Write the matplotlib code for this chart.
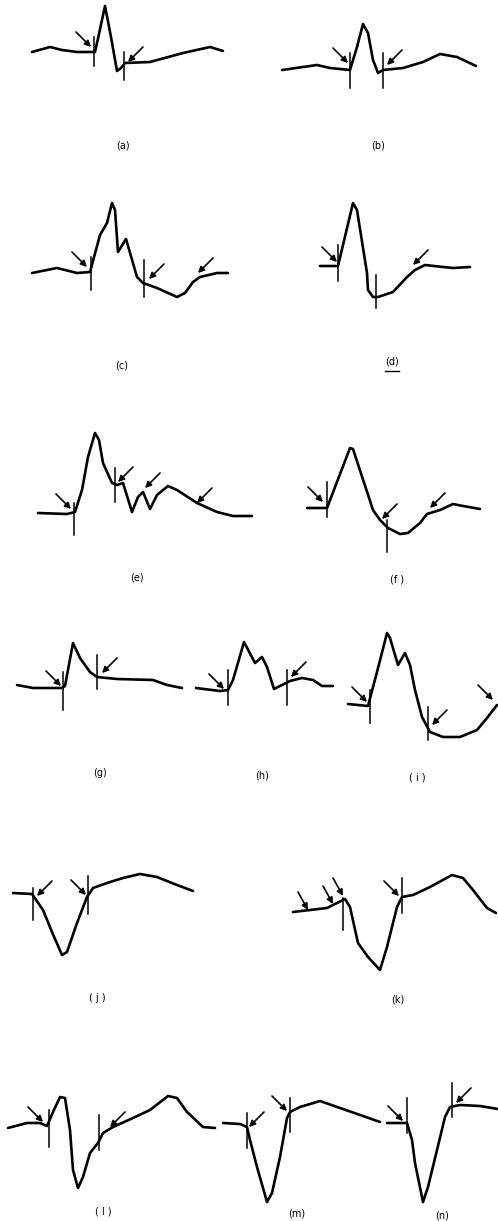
import numpy as np
import matplotlib
matplotlib.use("Agg")
import matplotlib.pyplot as plt

plt.rc('font', family='DejaVu Sans')

# Traced waveforms: t = time (px units from panel start), v = amplitude (px, up positive)
labels = ["(a)", "(b)", "(c)", "(d)", "(e)", "(f )", "(g)",
          "(h)", "( i )", "( j )", "(k)", "( l )", "(m)", "(n)"]

t_a = [0, 18, 30, 45, 63, 67, 73, 79, 85, 89, 93, 118, 151, 178, 191]
v_a = [0, 5, 2, 0, 0, 18, 46, 15, -19, -16, -11, -10, -1, 5, 1]
t_b = [0, 35, 48, 68, 75, 81, 86, 91, 93, 96, 101, 121, 141, 158, 175, 194]
v_b = [0, 5, 2, 0, 23, 46, 37, 10, 5, -3, 0, 2, 8, 16, 13, 4]
t_c = [0, 25, 45, 58, 68, 75, 80, 83, 86, 94, 105, 111, 125, 145, 153, 161, 168, 185, 196]
v_c = [0, 5, 0, 1, 38, 50, 70, 63, 21, 34, -4, -10, -15, -24, -20, -9, -4, 0, 0]
t_d = [0, 18, 33, 37, 47, 48, 53, 58, 73, 87, 95, 105, 123, 133, 150]
v_d = [0, 0, 63, 56, -7, -24, -31, -31, -26, -11, -4, 1, -1, -2, -1]
t_e = [0, 29, 37, 44, 50, 57, 61, 65, 74, 79, 85, 94, 100, 105, 112, 119, 130, 139, 159, 179, 195, 214]
v_e = [0, -1, 1, 23, 56, 80, 73, 50, 30, 28, 30, 1, 16, 21, 4, 18, 27, 23, 10, 1, -3, -3]
t_f = [0, 20, 43, 46, 66, 73, 81, 93, 101, 113, 120, 133, 146, 156, 173]
v_f = [0, 0, 60, 59, -2, -12, -20, -26, -25, -15, -6, -2, 4, 2, -1]
t_g = [0, 16, 45, 48, 56, 63, 73, 80, 100, 136, 150, 165]
v_g = [3, 0, 0, 2, 45, 30, 16, 11, 9, 8, 3, 0]
t_h = [0, 24, 32, 37, 48, 59, 66, 71, 78, 84, 94, 106, 117, 126, 137]
v_h = [2, -1, 0, 10, 48, 27, 33, 23, 1, 4, 9, 12, 10, 4, 4]
t_i = [0, 20, 29, 39, 42, 50, 57, 62, 67, 74, 82, 95, 112, 129, 139, 149]
v_i = [1, -1, 33, 72, 67, 40, 52, 40, 15, -12, -27, -32, -32, -25, -13, 0]
t_j = [0, 19, 30, 39, 49, 54, 64, 74, 80, 94, 110, 127, 144, 164, 180]
v_j = [1, 0, -16, -38, -61, -58, -29, -3, 6, 11, 16, 20, 17, 9, 3]
t_k = [0, 17, 34, 52, 57, 65, 75, 87, 94, 104, 109, 120, 137, 159, 170, 180, 194, 203]
v_k = [-2, 0, 2, 11, 3, -33, -47, -60, -37, 3, 13, 15, 23, 35, 32, 20, 2, -3]
t_l = [0, 19, 32, 39, 45, 52, 57, 62, 65, 70, 75, 82, 90, 95, 105, 125, 142, 160, 169, 179, 195, 207]
v_l = [-3, 2, 2, -1, 13, 28, 27, -5, -45, -63, -52, -28, -18, -8, -2, 7, 15, 29, 27, 13, -2, -3]
t_m = [0, 17, 24, 27, 34, 44, 49, 57, 64, 67, 77, 97, 117, 140, 157]
v_m = [1, 0, -3, -16, -43, -78, -69, -33, 6, 12, 17, 23, 16, 8, 2]
t_n = [0, 20, 25, 28, 36, 41, 50, 58, 63, 73, 93, 111]
v_n = [0, 0, -17, -40, -79, -64, -27, 6, 16, 18, 17, 14]

traces_t = [t_a, t_b, t_c, t_d, t_e, t_f, t_g, t_h, t_i, t_j, t_k, t_l, t_m, t_n]
traces_v = [v_a, v_b, v_c, v_d, v_e, v_f, v_g, v_h, v_i, v_j, v_k, v_l, v_m, v_n]

# vertical boundary markers: (t, top, bottom)
markers = [
    [(62, 15, -14), (92, 0, -28)],
    [(68, 17, -18), (101, 17, -18)],
    [(59, 16, -17), (112, 13, -24)],
    [(18, 21, -15), (56, -9, -42)],
    [(36, 10, -22), (77, 45, 11)],
    [(20, 26, -9), (80, -12, -44)],
    [(46, 16, -22), (80, 33, -1)],
    [(32, 20, -15), (91, 20, -15)],
    [(22, 15, -18), (80, -2, -35)],
    [(20, 6, -26), (75, 18, -20)],
    [(50, 12, -20), (109, 32, -3)],
    [(41, 15, -22), (91, 10, -25)],
    [(24, 11, -24), (67, 26, -8)],
    [(20, 25, -10), (65, 40, 6)],
]

# arrow tips: (t, v, side) side L = from upper left, R = from upper right, l = steep from left
arrows = [
    [(59, 5, 'L'), (96, -10, 'R')],
    [(66, 7, 'L'), (105, 5, 'R')],
    [(55, 6, 'L'), (117, -6, 'R'), (166, 0, 'R')],
    [(17, 4, 'L'), (93, 1, 'R')],
    [(33, 4, 'L'), (80, 31, 'R'), (107, 25, 'R'), (159, 10, 'R')],
    [(16, 6, 'L'), (75, -11, 'R'), (123, 0, 'R')],
    [(44, 2, 'L'), (85, 15, 'R')],
    [(28, 1, 'L'), (95, 13, 'R')],
    [(19, 3, 'L'), (84, -20, 'R'), (145, 5, 'L')],
    [(24, -2, 'R'), (73, -1, 'L')],
    [(15, 0, 'l'), (40, 6, 'l'), (50, 14, 'l'), (106, 14, 'L')],
    [(35, 3, 'L'), (102, -2, 'R')],
    [(26, -3, 'R'), (64, 13, 'L')],
    [(16, 2, 'L'), (69, 20, 'R')],
]

# layout: panel origin (x, baseline y) and label position, in figure pixels
origins = [(32, 52), (282, 70), (32, 273), (320, 266), (38, 513), (307, 508),
           (17, 688), (196, 690), (348, 705), (13, 894), (293, 910),
           (8, 1125), (223, 1124), (387, 1123)]
label_pos = [(123, 145), (378, 145), (122, 365), (392, 362), (137, 578), (397, 580),
             (100, 773), (262, 775), (417, 777), (97, 998), (398, 1000),
             (103, 1212), (297, 1213), (442, 1215)]
tails = {'L': (-15, 15), 'R': (15, 15), 'l': (-10, 18)}

fig = plt.figure(figsize=(4.98, 12.21), dpi=100)
ax = fig.add_axes([0, 0, 1, 1])
ax.set_xlim(0, 498)
ax.set_ylim(1221, 0)
ax.axis('off')

for i in range(len(labels)):
    ox, oy = origins[i]
    t = np.array(traces_t[i])
    v = np.array(traces_v[i])
    ax.plot(ox + t, oy - v, color='black', lw=1.9, solid_joinstyle='round', solid_capstyle='round')
    for mt, top, bot in markers[i]:
        ax.plot([ox + mt, ox + mt], [oy - top, oy - bot], color='black', lw=1.1)
    for at, av, side in arrows[i]:
        dx, dy = tails[side]
        ax.annotate('', xy=(ox + at, oy - av), xytext=(ox + at + dx, oy - av - dy),
                    arrowprops=dict(arrowstyle='-|>', color='black', lw=1.2,
                                    mutation_scale=9, shrinkA=0, shrinkB=0))
    lx, ly = label_pos[i]
    ax.text(lx, ly, labels[i], ha='center', va='center', fontsize=7, color='black')
    if labels[i] == "(d)":
        ax.plot([lx - 7, lx + 7], [ly + 9, ly + 9], color='black', lw=1.0)

fig.savefig("out.png", dpi=100, facecolor='white')
